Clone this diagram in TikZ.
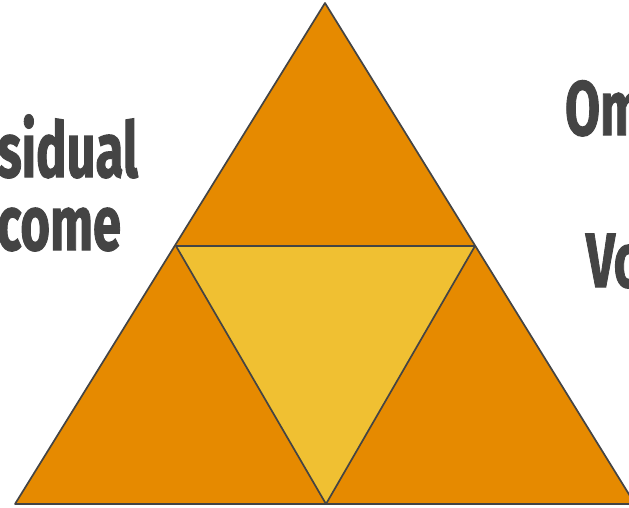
\documentclass[tikz,border=0pt]{standalone}
\usepackage{fontspec}
\setmainfont{Fira Sans}[BoldFeatures={FakeBold=1.6}]
\usepackage{graphicx}
\definecolor{orangefill}{HTML}{E68A00}
\definecolor{yellowfill}{HTML}{F0C032}
\definecolor{edgegray}{HTML}{444444}
\definecolor{textgray}{HTML}{444444}
\tikzset{
  outertri/.style={fill=orangefill, draw=edgegray, line width=1.7pt, line join=round},
  innertri/.style={fill=yellowfill, draw=edgegray, line width=1.7pt, line join=round},
  label/.style={inner sep=0pt, outer sep=0pt, text=textgray, font=\fontsize{77}{80}\selectfont\bfseries}
}
\newcommand{\cond}[1]{\scalebox{0.66}[1]{#1}}
\begin{document}
\begin{tikzpicture}[x=1pt, y=-1pt]
\useasboundingbox (0,0) rectangle (629,507);
\clip (0,0) rectangle (629,507);
\coordinate (apex) at (325,3);
\coordinate (bl) at (15,504);
\coordinate (br) at (635,504);
\coordinate (ml) at (176,246);
\coordinate (mr) at (475,246);
\coordinate (mb) at (326,504);
\draw[outertri] (apex) -- (br) -- (bl) -- cycle;
\draw[innertri] (ml) -- (mr) -- (mb) -- cycle;
\node[label, anchor=base east] (res) at (138,177) {\cond{Residual}};
\node[label, anchor=base east] (inc) at (121,250) {\cond{Income}};
\node[label, anchor=base west] (om) at (565,135) {\cond{Om}};
\node[label, anchor=base west] (vo) at (586,287) {\cond{Vo}};
\end{tikzpicture}
\end{document}
